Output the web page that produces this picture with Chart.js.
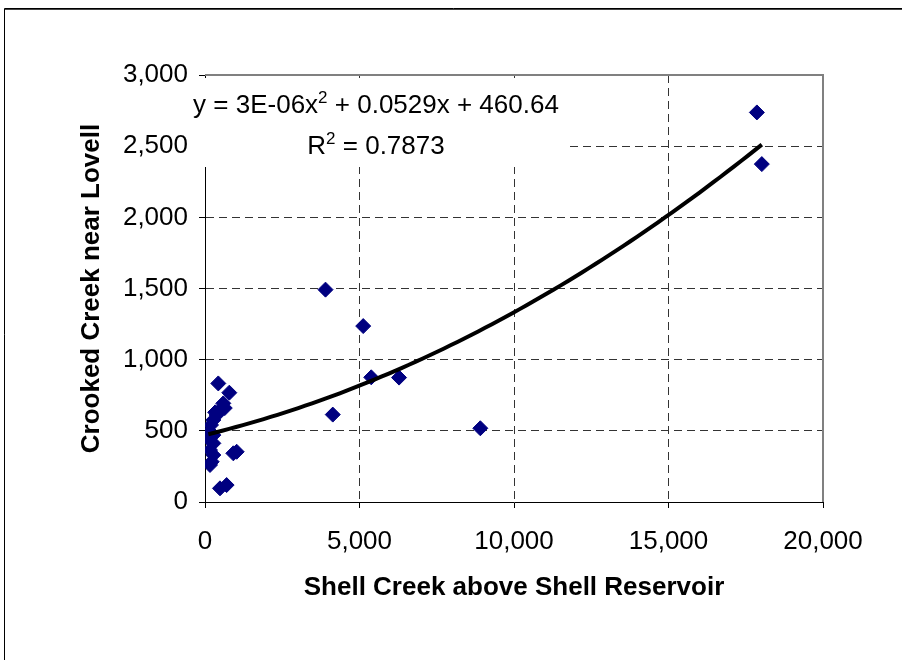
<!DOCTYPE html>
<html>
<head>
<meta charset="utf-8">
<script src="https://cdn.jsdelivr.net/npm/chart.js@4/dist/chart.umd.min.js"></script>
<style>
  html, body { margin: 0; padding: 0; background: #fff; }
  #c { display: block; }
</style>
</head>
<body>
<canvas id="c" width="902" height="660"></canvas>
<script>
// ---- data ----
const shellCreek = [430, 787, 592, 485, 378, 270, 194, 162, 270, 162, 108, 270, 162, 270, 216, 162, 917, 1025, 485, 700, 640, 330, 3900, 5120, 5380, 6280, 4135, 8910, 17860, 18020];
const crookedCreek = [833, 768, 693, 646, 611, 576, 541, 494, 470, 482, 447, 412, 365, 330, 283, 260, 342, 353, 96, 119, 660, 630, 1492, 1236, 876, 874, 614, 518, 2737, 2374];
const xTicks = [0, 5000, 10000, 15000, 20000];
const yTicks = [0, 500, 1000, 1500, 2000, 2500, 3000];
const xTitle = 'Shell Creek above Shell Reservoir';
const yTitle = 'Crooked Creek near Lovell';
const eqParts = ['y = 3E-06x', '2', ' + 0.0529x + 460.64'];
const r2Parts = ['R', '2', ' = 0.7873'];

// ---- quadratic least-squares trend from the data ----
function quadFit(xs, ys) {
  let S = [0,0,0,0,0], T = [0,0,0];
  for (let i = 0; i < xs.length; i++) {
    const x = xs[i], y = ys[i];
    let p = 1;
    for (let k = 0; k < 5; k++) { S[k] += p; if (k < 3) T[k] += p * y; p *= x; }
  }
  const A = [[S[0], S[1], S[2], T[0]], [S[1], S[2], S[3], T[1]], [S[2], S[3], S[4], T[2]]];
  for (let i = 0; i < 3; i++) {
    for (let j = i + 1; j < 3; j++) {
      const f = A[j][i] / A[i][i];
      for (let k = i; k < 4; k++) A[j][k] -= f * A[i][k];
    }
  }
  const c = [0,0,0];
  for (let i = 2; i >= 0; i--) {
    let s = A[i][3];
    for (let k = i + 1; k < 3; k++) s -= A[i][k] * c[k];
    c[i] = s / A[i][i];
  }
  return c; // c0 + c1 x + c2 x^2
}
const coef = quadFit(shellCreek, crookedCreek);
const xMin = Math.min(...shellCreek), xMax = Math.max(...shellCreek);
const trendPts = [];
for (let i = 0; i <= 80; i++) {
  const x = xMin + (xMax - xMin) * i / 80;
  trendPts.push({x, y: coef[0] + coef[1] * x + coef[2] * x * x});
}
const points = shellCreek.map((x, i) => ({x, y: crookedCreek[i]}));

const FONT = "'Liberation Sans', Arial, sans-serif";

const decor = {
  id: 'decor',
  beforeDraw(chart) {
    const ctx = chart.ctx;
    ctx.save();
    ctx.fillStyle = '#fff';
    ctx.fillRect(0, 0, chart.width, chart.height);
    ctx.strokeStyle = '#000';
    ctx.lineWidth = 1;
    ctx.beginPath();
    ctx.moveTo(4.5, 1000); ctx.lineTo(4.5, 8.5); ctx.lineTo(1000, 8.5);
    ctx.stroke();
    ctx.strokeStyle = '#444';
    ctx.beginPath();
    ctx.moveTo(5, 9.5); ctx.lineTo(1000, 9.5);
    ctx.stroke();
    ctx.restore();
  },
  beforeDatasetsDraw(chart) {
    const ctx = chart.ctx;
    const a = chart.chartArea;
    ctx.save();
    // gray plot border (top, right)
    ctx.strokeStyle = '#808080';
    ctx.lineWidth = 2;
    ctx.beginPath();
    ctx.moveTo(a.left, a.top); ctx.lineTo(a.right, a.top); ctx.lineTo(a.right, a.bottom);
    ctx.stroke();
    // trend label box
    ctx.fillStyle = '#fff';
    ctx.fillRect(188, 78, 378, 89);
    ctx.fillStyle = '#000';
    ctx.textBaseline = 'alphabetic';
    function drawSup(parts, cx, y) {
      const big = '26px ' + FONT, small = '17px ' + FONT;
      ctx.font = big; const w0 = ctx.measureText(parts[0]).width, w2 = ctx.measureText(parts[2]).width;
      ctx.font = small; const w1 = ctx.measureText(parts[1]).width;
      let x = cx - (w0 + w1 + w2) / 2;
      ctx.textAlign = 'left';
      ctx.font = big; ctx.fillText(parts[0], x, y); x += w0;
      ctx.font = small; ctx.fillText(parts[1], x, y - 10); x += w1;
      ctx.font = big; ctx.fillText(parts[2], x, y);
    }
    drawSup(eqParts, 376, 113);
    drawSup(r2Parts, 376, 154);
    ctx.restore();
  }
};

function gridColor(max) {
  return (c) => (c.tick && (c.tick.value === 0 || c.tick.value === max)) ? 'rgba(0,0,0,0)' : '#333';
}
const fmt = (v) => Number(v).toLocaleString('en-US');

new Chart(document.getElementById('c'), {
  type: 'scatter',
  data: {
    datasets: [
      {
        type: 'line', label: 'Trend', data: trendPts, borderColor: '#000', borderWidth: 4,
        pointRadius: 0, fill: false, tension: 0, order: 0
      },
      {
        label: 'Observed', data: points, pointStyle: 'rectRot', pointRadius: 7.5,
        backgroundColor: '#000080', borderColor: '#000080', borderWidth: 1, order: 1
      }
    ]
  },
  plugins: [decor],
  options: {
    responsive: false,
    animation: false,
    devicePixelRatio: 1,
    layout: { padding: { top: 75, right: 79, left: 0, bottom: 0 } },
    plugins: { legend: { display: false }, tooltip: { enabled: false } },
    scales: {
      x: {
        type: 'linear', min: 0, max: 20000,
        afterBuildTicks: (s) => { s.ticks = xTicks.map(v => ({value: v})); },
        afterFit: (s) => { s.height = 158; },
        ticks: { callback: fmt, font: { family: FONT, size: 26 }, color: '#000', padding: 18, maxRotation: 0 },
        grid: { color: gridColor(20000), tickColor: '#000', tickLength: 6, lineWidth: 1 },
        border: { color: '#000', width: 1, dash: [8, 5] },
        title: { display: true, text: xTitle, color: '#000', font: { family: FONT, size: 26, weight: 'bold' }, padding: { top: 0, bottom: 57 } }
      },
      y: {
        type: 'linear', min: 0, max: 3000,
        afterBuildTicks: (s) => { s.ticks = yTicks.map(v => ({value: v})); },
        afterFit: (s) => { s.width = 205; },
        ticks: { callback: fmt, font: { family: FONT, size: 26 }, color: '#000', padding: 11 },
        grid: { color: gridColor(3000), tickColor: '#000', tickLength: 6, lineWidth: 1 },
        border: { color: '#000', width: 1, dash: [8, 5] },
        title: { display: true, text: yTitle, color: '#000', font: { family: FONT, size: 26, weight: 'bold' }, padding: { top: 76, bottom: 0 } }
      }
    }
  }
});
</script>
</body>
</html>
